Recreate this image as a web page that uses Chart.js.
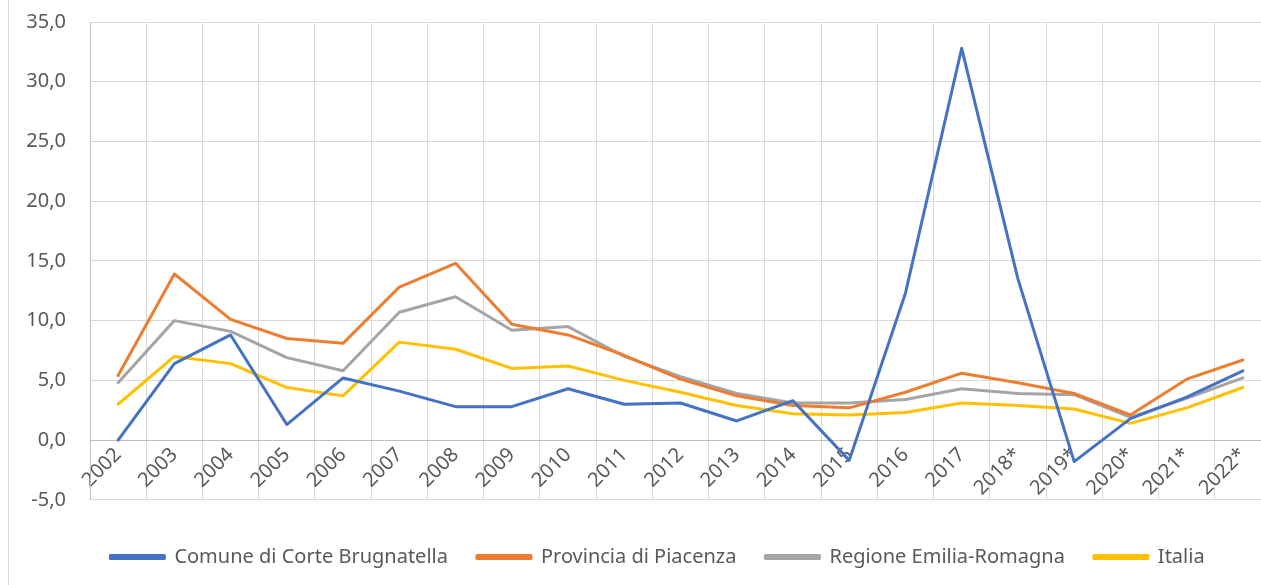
<!DOCTYPE html>
<html lang="it">
<head>
<meta charset="UTF-8">
<title>Corte Brugnatella</title>
<script src="https://cdn.jsdelivr.net/npm/chart.js"></script>
<style>
    html, body { margin: 0; padding: 0; background: #fff; overflow: hidden; }
    .wrap { position: relative; width: 1290px; height: 585px; }
    .edge { position: absolute; left: 8px; top: 0; width: 1px; height: 585px; background: #d9d9d9; }
</style>
</head>
<body>
<div class="wrap">
    <canvas id="chart" width="1290" height="585"></canvas>
    <div class="edge"></div>
</div>
<script>
    const anni = ['2002', '2003', '2004', '2005', '2006', '2007', '2008', '2009', '2010', '2011', '2012',
        '2013', '2014', '2015', '2016', '2017', '2018*', '2019*', '2020*', '2021*', '2022*'];

    const comune = [0.0, 6.4, 8.8, 1.3, 5.2, 4.1, 2.8, 2.8, 4.3, 3.0, 3.1,
        1.6, 3.3, -1.7, 12.3, 32.8, 13.5, -1.8, 1.8, 3.6, 5.8];
    const provincia = [5.4, 13.9, 10.1, 8.5, 8.1, 12.8, 14.8, 9.7, 8.8, 7.1, 5.1,
        3.7, 2.9, 2.7, 4.0, 5.6, 4.8, 3.9, 2.1, 5.1, 6.7];
    const regione = [4.8, 10.0, 9.1, 6.9, 5.8, 10.7, 12.0, 9.2, 9.5, 7.0, 5.3,
        3.9, 3.1, 3.1, 3.4, 4.3, 3.9, 3.8, 1.9, 3.5, 5.2];
    const italia = [3.0, 7.0, 6.4, 4.4, 3.7, 8.2, 7.6, 6.0, 6.2, 5.0, 4.0,
        2.9, 2.2, 2.1, 2.3, 3.1, 2.9, 2.6, 1.4, 2.7, 4.4];

    const yTicks = [-5, 0, 5, 10, 15, 20, 25, 30, 35];

    const testo = '#595959';
    const griglia = '#d9d9d9';
    const asse = '#bfbfbf';
    const font = "'Noto Sans', sans-serif";

    function serie(label, data, colore) {
        return {
            label: label,
            data: data,
            borderColor: colore,
            backgroundColor: colore,
            borderWidth: 3,
            pointRadius: 0,
            tension: 0,
            borderJoinStyle: 'round',
            borderCapStyle: 'round'
        };
    }

    // legenda un po' spostata a destra come nell'originale
    const spostaLegenda = {
        id: 'spostaLegenda',
        afterLayout(chart) {
            chart.legend.left += 22;
            chart.legend.right += 22;
        }
    };

    new Chart(document.getElementById('chart'), {
        type: 'line',
        data: {
            labels: anni,
            datasets: [
                serie('Comune di Corte Brugnatella', comune, '#4472c4'),
                serie('Provincia di Piacenza', provincia, '#ed7d31'),
                serie('Regione Emilia-Romagna', regione, '#a5a5a5'),
                serie('Italia', italia, '#ffc000')
            ]
        },
        plugins: [spostaLegenda],
        options: {
            responsive: false,
            animation: false,
            layout: { padding: { left: 0, right: 19, top: 22, bottom: 8 } },
            scales: {
                x: {
                    position: { y: 0 },
                    offset: true,
                    grid: { color: griglia, offset: true, drawTicks: false },
                    border: { color: asse },
                    ticks: {
                        color: testo,
                        font: { family: font, size: 20 },
                        minRotation: 45,
                        maxRotation: 45,
                        autoSkip: false,
                        padding: 3
                    }
                },
                y: {
                    min: -5,
                    max: 35,
                    afterFit: s => {
                        s.width = 90;
                        s.paddingTop = 0;
                        s.paddingBottom = 0;
                    },
                    afterBuildTicks: s => { s.ticks = yTicks.map(v => ({ value: v })); },
                    grid: {
                        drawTicks: false,
                        color: c => c.tick && c.tick.value === 0 ? asse : griglia
                    },
                    border: { color: asse },
                    ticks: {
                        color: testo,
                        font: { family: font, size: 20 },
                        padding: 24,
                        callback: v => v.toFixed(1).replace('.', ',')
                    }
                }
            },
            plugins: {
                tooltip: { enabled: false },
                legend: {
                    position: 'bottom',
                    title: { display: true, text: '', font: { size: 1 }, padding: { top: 8, bottom: 9 } },
                    labels: {
                        color: testo,
                        font: { family: font, size: 20 },
                        boxWidth: 54,
                        boxHeight: 3,
                        padding: 29
                    }
                }
            }
        }
    });
</script>
</body>
</html>
